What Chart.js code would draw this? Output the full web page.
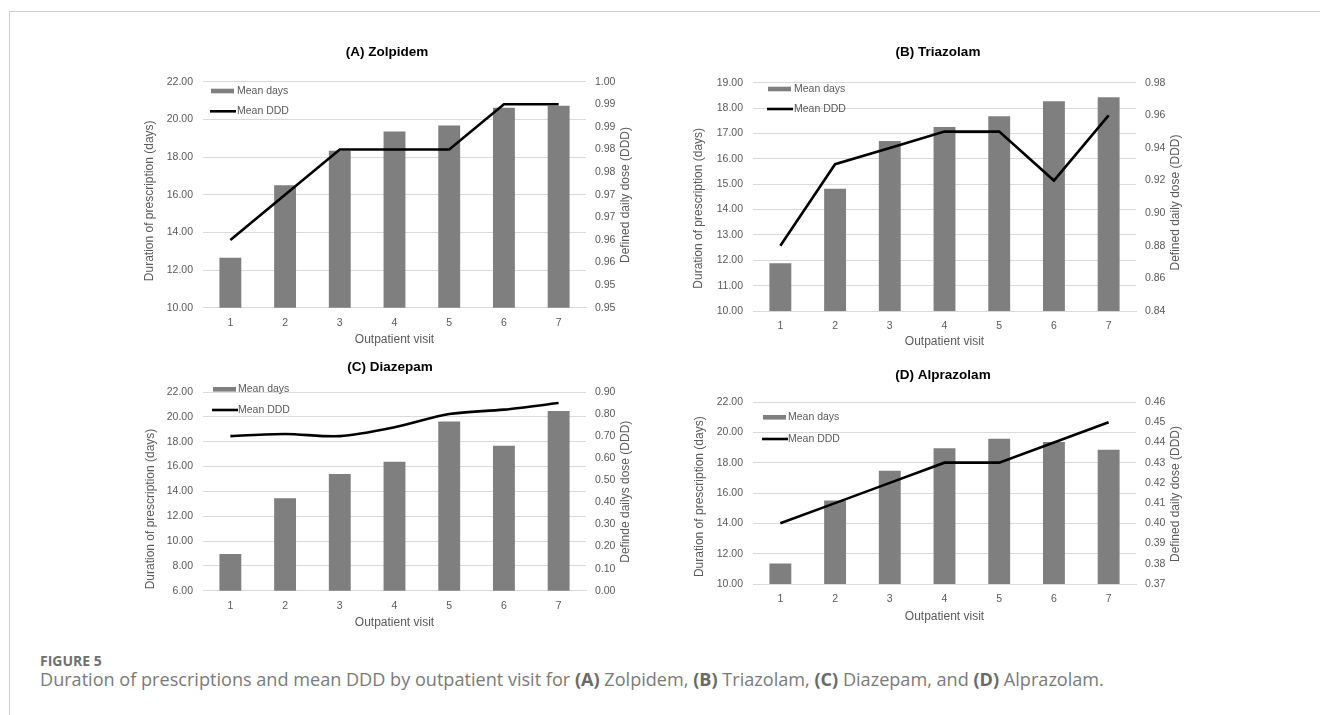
<!DOCTYPE html>
<html>
<head>
<meta charset="utf-8">
<script src="https://cdn.jsdelivr.net/npm/chart.js@4.4.1/dist/chart.umd.min.js"></script>
<style>
  html, body { margin: 0; padding: 0; background: #fff; }
  body { width: 1320px; height: 715px; position: relative; overflow: hidden; font-family: "Open Sans", sans-serif; }
  .frame { position: absolute; left: 9px; top: 11px; right: -2px; bottom: -2px; border-top: 1px solid #cccccc; border-left: 1px solid #cccccc; }
  canvas { position: absolute; }
  .fig { position: absolute; left: 40px; top: 651px; font-size: 14px; font-weight: 700; color: #707070; white-space: nowrap; }
  .cap { position: absolute; left: 40px; top: 667px; font-size: 18.1px; color: #7a7a7a; white-space: nowrap; }
  .cap b { font-weight: 700; color: #6a6a6a; }
</style>
</head>
<body>
<div class="frame"></div>
<canvas id="chartA"></canvas>
<canvas id="chartB"></canvas>
<canvas id="chartC"></canvas>
<canvas id="chartD"></canvas>
<div class="fig">FIGURE 5</div>
<div class="cap">Duration of prescriptions and mean DDD by outpatient visit for <b>(A)</b> Zolpidem, <b>(B)</b> Triazolam, <b>(C)</b> Diazepam, and <b>(D)</b> Alprazolam.</div>

<script>
// ---- data ----
const visits = ['1', '2', '3', '4', '5', '6', '7'];

const zolpidemDays = [12.65, 16.50, 18.33, 19.35, 19.68, 20.62, 20.72];
const zolpidemDDD  = [0.96, 0.97, 0.98, 0.98, 0.98, 0.99, 0.99];

const triazolamDays = [11.88, 14.82, 16.70, 17.25, 17.68, 18.27, 18.43];
const triazolamDDD  = [0.88, 0.93, 0.94, 0.95, 0.95, 0.92, 0.96];

const diazepamDays = [8.95, 13.44, 15.40, 16.39, 19.62, 17.68, 20.47];
const diazepamDDD  = [0.70, 0.71, 0.70, 0.74, 0.80, 0.82, 0.85];

const alprazolamDays = [11.35, 15.50, 17.47, 18.95, 19.57, 19.37, 18.85];
const alprazolamDDD  = [0.40, 0.41, 0.42, 0.43, 0.43, 0.44, 0.45];

// Zolpidem's dose axis steps by 0.005 but prints two decimals
const zolpidemDddTickValues = [0.945, 0.950, 0.955, 0.960, 0.965, 0.970, 0.975, 0.980, 0.985, 0.990, 0.995];
const zolpidemDddTickLabels = ['0.95', '0.95', '0.96', '0.96', '0.97', '0.97', '0.98', '0.98', '0.99', '0.99', '1.00'];

const daysLabel = 'Mean days';
const dddLabel = 'Mean DDD';
const xTitle = 'Outpatient visit';
const yTitle = 'Duration of prescription (days)';

// ---- styling ----
const FONT = '"Liberation Sans", Arial, sans-serif';
const TEXT = '#595959';
const GRID = '#d9d9d9';
const BAR = '#7f7f7f';
const TICK_SIZE = 10.5;
const AXIS_TITLE_SIZE = 12;
const TITLE_SIZE = 13.5;

function stepTicks(min, max, step) {
  const n = Math.round((max - min) / step);
  const out = [];
  for (let i = 0; i <= n; i++) out.push(+(min + i * step).toFixed(6));
  return out;
}

// legend swatches and rotated axis titles
const panelDecor = {
  id: 'panelDecor',
  afterDraw(chart, args, o) {
    const ctx = chart.ctx;
    ctx.save();
    const L = o.legend;
    ctx.fillStyle = BAR;
    ctx.fillRect(L.x, L.barY - 2.3, L.w, 4.6);
    ctx.strokeStyle = '#000';
    ctx.lineWidth = 2.6;
    ctx.beginPath();
    ctx.moveTo(L.x - 1, L.lineY);
    ctx.lineTo(L.x + L.w + 2, L.lineY);
    ctx.stroke();
    ctx.fillStyle = TEXT;
    ctx.font = TICK_SIZE + 'px ' + FONT;
    ctx.textBaseline = 'middle';
    ctx.textAlign = 'left';
    ctx.fillText(chart.data.datasets[1].label, L.textX, L.barY);
    ctx.fillText(chart.data.datasets[0].label, L.textX, L.lineY);

    ctx.font = AXIS_TITLE_SIZE + 'px ' + FONT;
    ctx.textAlign = 'center';
    [[o.yTitleX, o.yTitleY, o.yTitle], [o.y2TitleX, o.y2TitleY, o.y2Title]].forEach(([x, y, t]) => {
      ctx.save();
      ctx.translate(x, y);
      ctx.rotate(-Math.PI / 2);
      ctx.fillText(t, 0, 0);
      ctx.restore();
    });
    ctx.restore();
  }
};

function makePanel(p) {
  const cv = document.getElementById(p.id);
  const c = p.canvas;
  cv.width = c.width; cv.height = c.height;
  cv.style.left = c.left + 'px'; cv.style.top = c.top + 'px';
  cv.style.width = c.width + 'px'; cv.style.height = c.height + 'px';

  const a = p.area;
  const leftW = a.left - c.left;
  const rightW = c.left + c.width - a.right;
  const bottomH = c.top + c.height - a.bottom;
  const titleLH = TITLE_SIZE * 1.2;
  const tPadTop = (p.titleY - c.top) - titleLH / 2;
  const tPadBottom = (a.top - c.top) - tPadTop - titleLH;
  const xTitlePadBottom = (c.top + c.height - p.xTitleY) - AXIS_TITLE_SIZE * 1.2 / 2;

  const yTicks = stepTicks(p.yMin, p.yMax, p.yStep);
  const y2Ticks = p.y2Values || stepTicks(p.y2Min, p.y2Max, p.y2Step);
  const y2Text = p.y2Labels ? (v, i) => p.y2Labels[i] : (v) => Number(v).toFixed(2);

  const sx = (x) => x - c.left;
  const sy = (y) => y - c.top;

  new Chart(cv, {
    type: 'bar',
    data: {
      labels: visits,
      datasets: [
        {
          type: 'line',
          label: dddLabel,
          data: p.ddd,
          yAxisID: 'y2',
          borderColor: '#000',
          borderWidth: 2.6,
          pointRadius: 0,
          tension: p.smooth ? 0.3 : 0,
          fill: false,
          order: 0
        },
        {
          type: 'bar',
          label: daysLabel,
          data: p.days,
          yAxisID: 'y',
          backgroundColor: BAR,
          borderWidth: 0,
          categoryPercentage: 1.0,
          barPercentage: 0.4,
          order: 1
        }
      ]
    },
    options: {
      responsive: false,
      animation: false,
      devicePixelRatio: 1,
      layout: { padding: 0 },
      plugins: {
        legend: { display: false },
        tooltip: { enabled: false },
        title: {
          display: true,
          text: p.title,
          color: '#000',
          font: { family: FONT, size: TITLE_SIZE, weight: 'bold', lineHeight: 1.2 },
          padding: { top: tPadTop, bottom: tPadBottom }
        },
        panelDecor: {
          legend: {
            x: sx(p.legend.x), w: p.legend.w, barY: sy(p.legend.barY),
            lineY: sy(p.legend.lineY), textX: sx(p.legend.textX)
          },
          yTitle: yTitle, yTitleX: sx(p.yTitleX), yTitleY: sy(p.yTitleY),
          y2Title: p.y2Title, y2TitleX: sx(p.y2TitleX), y2TitleY: sy(p.y2TitleY)
        }
      },
      scales: {
        x: {
          offset: true,
          grid: { display: false, drawTicks: false },
          border: { display: true, color: GRID, width: 1 },
          ticks: { color: TEXT, padding: 9, font: { family: FONT, size: TICK_SIZE } },
          title: {
            display: true, text: xTitle, color: TEXT,
            font: { family: FONT, size: AXIS_TITLE_SIZE, lineHeight: 1.2 },
            padding: { top: 0, bottom: xTitlePadBottom }
          },
          afterFit(s) { s.height = bottomH; }
        },
        y: {
          position: 'left',
          min: p.yMin, max: p.yMax,
          grid: { color: GRID, lineWidth: 1, drawTicks: false },
          border: { display: false },
          ticks: {
            color: TEXT, padding: 10, font: { family: FONT, size: TICK_SIZE },
            callback: (v) => Number(v).toFixed(2)
          },
          afterBuildTicks(s) { s.ticks = yTicks.map(v => ({ value: v })); },
          afterFit(s) { s.width = leftW; }
        },
        y2: {
          position: 'right',
          min: y2Ticks[0], max: y2Ticks[y2Ticks.length - 1],
          grid: { display: false, drawTicks: false },
          border: { display: false },
          ticks: {
            color: TEXT, padding: 9, font: { family: FONT, size: TICK_SIZE },
            callback: y2Text
          },
          afterBuildTicks(s) { s.ticks = y2Ticks.map(v => ({ value: v })); },
          afterFit(s) { s.width = rightW; }
        }
      }
    },
    plugins: [panelDecor]
  });
}

makePanel({
  id: 'chartA', title: '(A) Zolpidem',
  days: zolpidemDays, ddd: zolpidemDDD, smooth: false,
  yMin: 10, yMax: 22, yStep: 2,
  y2Values: zolpidemDddTickValues, y2Labels: zolpidemDddTickLabels,
  y2Title: 'Defined daily dose (DDD)',
  canvas: { left: 136, top: 36, width: 502, height: 316 },
  area: { left: 203, top: 81.7, right: 586, bottom: 307.7 },
  titleY: 52, xTitleY: 340,
  yTitleX: 150, yTitleY: 200.8, y2TitleX: 626, y2TitleY: 195,
  legend: { x: 211, w: 23, barY: 91, lineY: 111.3, textX: 237 }
});

makePanel({
  id: 'chartB', title: '(B) Triazolam',
  days: triazolamDays, ddd: triazolamDDD, smooth: false,
  yMin: 10, yMax: 19, yStep: 1,
  y2Min: 0.84, y2Max: 0.98, y2Step: 0.02,
  y2Title: 'Defined daily dose (DDD)',
  canvas: { left: 690, top: 36, width: 496, height: 317 },
  area: { left: 753, top: 82.7, right: 1136, bottom: 311 },
  titleY: 52.3, xTitleY: 342,
  yTitleX: 699, yTitleY: 208.3, y2TitleX: 1176, y2TitleY: 202.5,
  legend: { x: 768, w: 23, barY: 89, lineY: 109, textX: 794 }
});

makePanel({
  id: 'chartC', title: '(C) Diazepam',
  days: diazepamDays, ddd: diazepamDDD, smooth: true,
  yMin: 6, yMax: 22, yStep: 2,
  y2Min: 0, y2Max: 0.9, y2Step: 0.1,
  y2Title: 'Definde dailys dose (DDD)',
  canvas: { left: 136, top: 352, width: 508, height: 282 },
  area: { left: 203, top: 392, right: 586, bottom: 590.7 },
  titleY: 367.3, xTitleY: 623,
  yTitleX: 150.7, yTitleY: 509, y2TitleX: 626, y2TitleY: 491.7,
  legend: { x: 213, w: 23, barY: 389.3, lineY: 410, textX: 238 }
});

makePanel({
  id: 'chartD', title: '(D) Alprazolam',
  days: alprazolamDays, ddd: alprazolamDDD, smooth: false,
  yMin: 10, yMax: 22, yStep: 2,
  y2Min: 0.37, y2Max: 0.46, y2Step: 0.01,
  y2Title: 'Defined daily dose (DDD)',
  canvas: { left: 690, top: 354, width: 506, height: 274 },
  area: { left: 753, top: 402, right: 1136, bottom: 584 },
  titleY: 375, xTitleY: 617,
  yTitleX: 700, yTitleY: 496.7, y2TitleX: 1176, y2TitleY: 494,
  legend: { x: 763, w: 23, barY: 417.3, lineY: 439, textX: 788 }
});
</script>
</body>
</html>
